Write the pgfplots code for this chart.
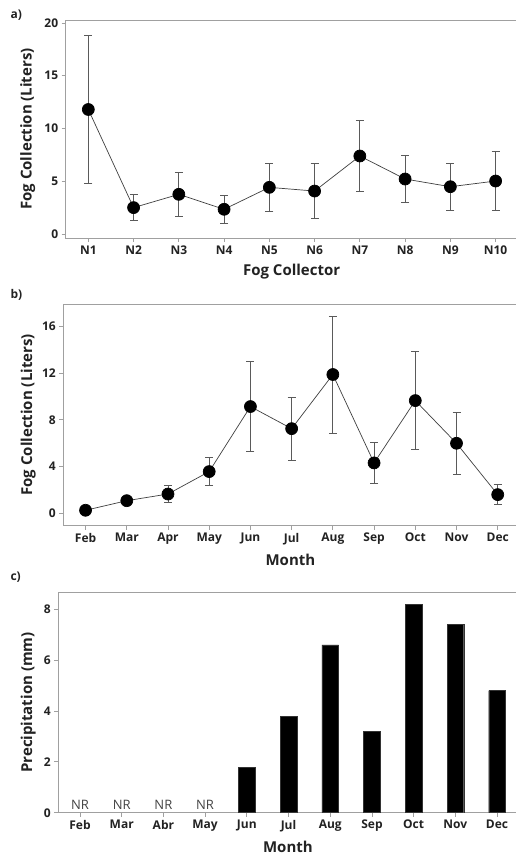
\documentclass[border=0pt]{standalone}
\usepackage{pgfplots}
\pgfplotsset{compat=1.18}
\usepackage{fontspec}
\setmainfont{Open Sans}
\definecolor{frame}{HTML}{A0A0A0}
\definecolor{txt}{HTML}{222222}
\definecolor{ebar}{HTML}{5A5A5A}

\pgfplotstableread{
x y e
1 11.80 7.00
2 2.50 1.25
3 3.76 2.10
4 2.34 1.35
5 4.42 2.25
6 4.07 2.60
7 7.39 3.35
8 5.21 2.25
9 4.48 2.20
10 5.02 2.80
}\collectors

\pgfplotstableread{
x y e
0 0.26 0.10
1 1.08 0.30
2 1.65 0.70
3 3.57 1.20
4 9.13 3.85
5 7.24 2.70
6 11.87 5.00
7 4.31 1.76
8 9.64 4.20
9 5.99 2.66
10 1.60 0.87
}\months

\pgfplotsset{
  common/.style={
    scale only axis,
    axis line style={frame, line width=0.8pt},
    tick style={frame, line width=0.8pt},
    tick align=outside,
    major tick length=4pt,
    xtick pos=bottom, ytick pos=left,
    /pgf/number format/assume math mode=true,
    ticklabel style={font=\fontsize{12}{14}\selectfont\bfseries, text=txt},
    every axis x label/.style={at={(axis description cs:0.5,0)}, anchor=center, yshift=-34pt},
    every axis y label/.style={rotate=90, anchor=center},
    label style={font=\fontsize{15}{18}\selectfont\bfseries, text=txt},
  },
  pts/.style={draw=black!75, line width=0.7pt, mark=*, mark size=6pt,
    mark options={fill=black, draw=black, solid},
    error bars/.cd, y dir=both, y explicit,
    error bar style={ebar, line width=0.8pt},
    error mark options={rotate=90, mark size=4pt, ebar, line width=0.8pt}},
}

\begin{document}
\begin{tikzpicture}
\useasboundingbox (0,0) rectangle (516pt,-857pt);
\fill[white] (0,0) rectangle (516pt,-857pt);

% a)
\begin{axis}[common, at={(65.7pt,-20pt)}, anchor=north west,
  width=451.8pt, height=218pt,
  xmin=0.5, xmax=10.484, ymin=-0.38, ymax=20.28,
  xtick={1,...,10}, xticklabels={N1,N2,N3,N4,N5,N6,N7,N8,N9,N10},
  ytick={0,5,10,15,20},
  xlabel={Fog Collector},
  ylabel={Fog Collection (Liters)},
  ylabel style={at={([xshift=-38pt]axis description cs:0,0.5)}}]
\addplot[pts] table[x=x, y=y, y error=e] {\collectors};
\end{axis}

% b)
\begin{axis}[common, at={(63.3pt,-304pt)}, anchor=north west,
  width=454.2pt, height=221.7pt,
  xmin=-0.54, xmax=10.48, ymin=-1.06, ymax=17.9,
  xtick={0,...,10}, xticklabels={Feb,Mar,Apr,May,Jun,Jul,Aug,Sep,Oct,Nov,Dec},
  ytick={0,4,8,12,16},
  xlabel={Month},
  ylabel={Fog Collection (Liters)},
  ylabel style={at={([xshift=-35pt]axis description cs:0,0.5)}}]
\addplot[pts] table[x=x, y=y, y error=e] {\months};
\end{axis}

% c)
\begin{axis}[common, at={(58.3pt,-592.3pt)}, anchor=north west,
  width=459.2pt, height=220.4pt,
  xmin=-0.52, xmax=10.49, ymin=0, ymax=8.67,
  xtick={0,...,10}, xticklabels={Feb,Mar,Abr,May,Jun,Jul,Aug,Sep,Oct,Nov,Dec},
  ytick={0,2,4,6,8},
  xlabel={Month},
  ylabel={Precipitation (mm)},
  ylabel style={at={([xshift=-30pt]axis description cs:0,0.5)}}]
\addplot[ybar, bar width=16.7pt, fill=black, draw=black!80] coordinates {
  (4,1.78) (5,3.80) (6,6.60) (7,3.19) (8,8.21) (9,7.40) (10,4.80)};
\foreach \i in {0,1,2,3} {
  \edef\temp{\noexpand\node[anchor=base, yshift=3.5pt, font=\noexpand\fontsize{13}{15}\noexpand\selectfont, text=txt!85] at (axis cs:\i,0) {NR};}
  \temp
}
\end{axis}

\node[anchor=west, font=\fontsize{12}{14}\selectfont\bfseries, text=txt] at (7pt,-15pt) {a)};
\node[anchor=west, font=\fontsize{12}{14}\selectfont\bfseries, text=txt] at (7pt,-295pt) {b)};
\node[anchor=west, font=\fontsize{12}{14}\selectfont\bfseries, text=txt] at (7pt,-577pt) {c)};
\end{tikzpicture}
\end{document}
